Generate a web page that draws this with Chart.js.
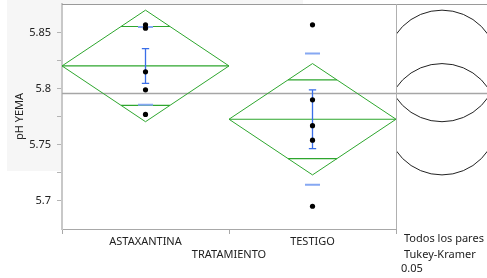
<!DOCTYPE html>
<html>
<head>
<meta charset="utf-8">
<script src="https://cdn.jsdelivr.net/npm/chart.js@4.4.0/dist/chart.umd.min.js"></script>
<style>
  html, body { margin: 0; padding: 0; background: #fff; }
  canvas { display: block; }
</style>
</head>
<body>
<canvas id="myChart" width="487" height="278"></canvas>
<script>
'use strict';

// values
let categories = ['ASTAXANTINA', 'TESTIGO'];
let astaxantinaValues = [5.857, 5.854, 5.815, 5.799, 5.777];
let testigoValues = [5.857, 5.790, 5.767, 5.754, 5.695];
let groupMeans = [5.8203, 5.7727];
let groupStdErr = [0.0155, 0.0262];
let groupStdDev = [0.0347, 0.0586];
let groupCiHalf = [0.0498, 0.0497];
let circleRadius = [0.0498, 0.0497];
let grandMean = 5.7963;
let yTicks = [5.7, 5.725, 5.75, 5.775, 5.8, 5.825, 5.85];
let yTickLabels = ['5.7', '', '5.75', '', '5.8', '', '5.85'];
let panelText = ['Todos los pares', 'Tukey-Kramer', '0.05'];

let fontName = '"Noto Sans", "Open Sans", sans-serif';
let green = '#2ea62e';

// build the line pieces from the arrays above
let groupValues = [astaxantinaValues, testigoValues];
let pointData = [];
let diamondData = [];
let meanData = [];
let overlapData = [];
let sdData = [];
let seData = [];
let ov = 0.5 * (1 - Math.SQRT1_2);
let capW = 0.022;
let sdW = 0.045;
for (let i = 0; i < categories.length; i++) {
  groupValues[i].forEach(v => pointData.push({x: i, y: v}));
  let m = groupMeans[i];
  let c = groupCiHalf[i];
  let o = c * Math.SQRT1_2;
  let gap = {x: i, y: null};
  diamondData.push({x: i - 0.5, y: m}, {x: i, y: m + c}, {x: i + 0.5, y: m}, {x: i, y: m - c}, {x: i - 0.5, y: m}, gap);
  meanData.push({x: i - 0.5, y: m}, {x: i + 0.5, y: m}, gap);
  overlapData.push({x: i - ov, y: m + o}, {x: i + ov, y: m + o}, gap, {x: i - ov, y: m - o}, {x: i + ov, y: m - o}, gap);
  let sd = groupStdDev[i];
  sdData.push({x: i - sdW, y: m + sd}, {x: i + sdW, y: m + sd}, gap, {x: i - sdW, y: m - sd}, {x: i + sdW, y: m - sd}, gap);
  let se = groupStdErr[i];
  seData.push({x: i, y: m + se}, {x: i, y: m - se}, gap,
    {x: i - capW, y: m + se}, {x: i + capW, y: m + se}, gap,
    {x: i - capW, y: m - se}, {x: i + capW, y: m - se}, gap);
}

function lineSet(data, color, width) {
  return {
    data: data,
    xAxisID: 'xl',
    showLine: true,
    borderColor: color,
    borderWidth: width,
    pointRadius: 0,
    spanGaps: false,
    tension: 0
  };
}

// draws the things Chart.js has no element for
let panelPlugin = {
  id: 'panel',
  beforeDraw(chart) {
    let ctx = chart.ctx;
    ctx.save();
    ctx.fillStyle = '#f6f6f6';
    ctx.fillRect(7, 0, 55, 171);
    ctx.fillRect(7, 0, 296, 4);
    ctx.restore();
  },
  beforeDatasetsDraw(chart) {
    let ctx = chart.ctx;
    let area = chart.chartArea;
    let gy = Math.round(chart.scales.y.getPixelForValue(grandMean)) + 0.5;
    ctx.save();
    ctx.strokeStyle = '#a6a6a6';
    ctx.lineWidth = 1.5;
    ctx.beginPath();
    ctx.moveTo(area.left, gy);
    ctx.lineTo(chart.width, gy);
    ctx.stroke();
    ctx.restore();
  },
  afterDraw(chart) {
    let ctx = chart.ctx;
    let area = chart.chartArea;
    let y = chart.scales.y;
    ctx.save();
    // frame
    ctx.strokeStyle = '#9a9a9a';
    ctx.lineWidth = 1;
    ctx.beginPath();
    ctx.moveTo(area.left, area.top + 0.5);
    ctx.lineTo(chart.width, area.top + 0.5);
    ctx.stroke();
    ctx.strokeStyle = '#b0b0b0';
    ctx.beginPath();
    ctx.moveTo(area.right + 0.5, area.top);
    ctx.lineTo(area.right + 0.5, area.bottom);
    ctx.stroke();
    // comparison circles
    ctx.save();
    ctx.beginPath();
    ctx.rect(area.right + 1, area.top + 1, chart.width - area.right, chart.height);
    ctx.clip();
    ctx.strokeStyle = '#222';
    ctx.lineWidth = 1;
    let cx = 442;
    for (let i = 0; i < groupMeans.length; i++) {
      let cy = y.getPixelForValue(groupMeans[i]);
      let r = cy - y.getPixelForValue(groupMeans[i] + circleRadius[i]);
      ctx.beginPath();
      ctx.arc(cx, cy, r, 0, Math.PI * 2);
      ctx.stroke();
    }
    ctx.restore();
    // panel text
    ctx.fillStyle = '#222';
    ctx.font = '11px ' + fontName;
    ctx.textBaseline = 'alphabetic';
    ctx.fillText(panelText[0], 404, 242);
    ctx.fillText(panelText[1], 404, 258);
    ctx.fillText(panelText[2], 401, 272);
    ctx.restore();
  }
};

let chartObject = {
  type: 'scatter',
  data: {
    labels: categories,
    datasets: [
      {
        data: pointData,
        xAxisID: 'xl',
        pointRadius: 2.6,
        pointBackgroundColor: '#000',
        pointBorderWidth: 0
      },
      lineSet(seData, '#3a6ee8', 1.3),
      lineSet(sdData, '#86a8f2', 2),
      lineSet(meanData, green, 1.2),
      lineSet(overlapData, green, 1.2),
      lineSet(diamondData, green, 1)
    ]
  },
  options: {
    responsive: false,
    animation: false,
    devicePixelRatio: 1,
    layout: { padding: { left: 0, top: 4, right: 91, bottom: 0 } },
    plugins: { legend: { display: false }, tooltip: { enabled: false } },
    scales: {
      x: {
        type: 'category',
        position: 'bottom',
        offset: true,
        afterFit(s) {
          s.height = 49;
          s.paddingLeft = 0;
          s.paddingRight = 0;
        },
        grid: { offset: true, drawOnChartArea: false, tickLength: 5, color: '#a8a8a8' },
        border: { color: '#a8a8a8', width: 1 },
        ticks: { color: '#222', padding: 1, font: { family: fontName, size: 11 } },
        title: {
          display: true,
          text: 'TRATAMIENTO',
          color: '#222',
          font: { family: fontName, size: 11 },
          padding: { top: 0, bottom: 17 }
        }
      },
      xl: {
        type: 'linear',
        position: 'bottom',
        display: false,
        min: -0.5,
        max: 1.5
      },
      y: {
        type: 'linear',
        min: 5.6747,
        max: 5.8756,
        afterFit(s) {
          s.width = 62;
          s.paddingTop = 0;
          s.paddingBottom = 0;
        },
        afterBuildTicks(s) { s.ticks = yTicks.map(v => ({ value: v })); },
        grid: { drawOnChartArea: false, tickLength: 5, color: '#b4b4b4' },
        border: { color: '#c8c8c8', width: 2 },
        ticks: {
          color: '#222',
          padding: 6,
          font: { family: fontName, size: 11 },
          callback: (v, idx) => yTickLabels[idx]
        },
        title: {
          display: true,
          text: 'pH YEMA',
          color: '#222',
          font: { family: fontName, size: 11 },
          padding: { top: 13, bottom: 0 }
        }
      }
    }
  },
  plugins: [panelPlugin]
};

let ctx = document.getElementById('myChart').getContext('2d');
let myChart = new Chart(ctx, chartObject);
</script>
</body>
</html>
